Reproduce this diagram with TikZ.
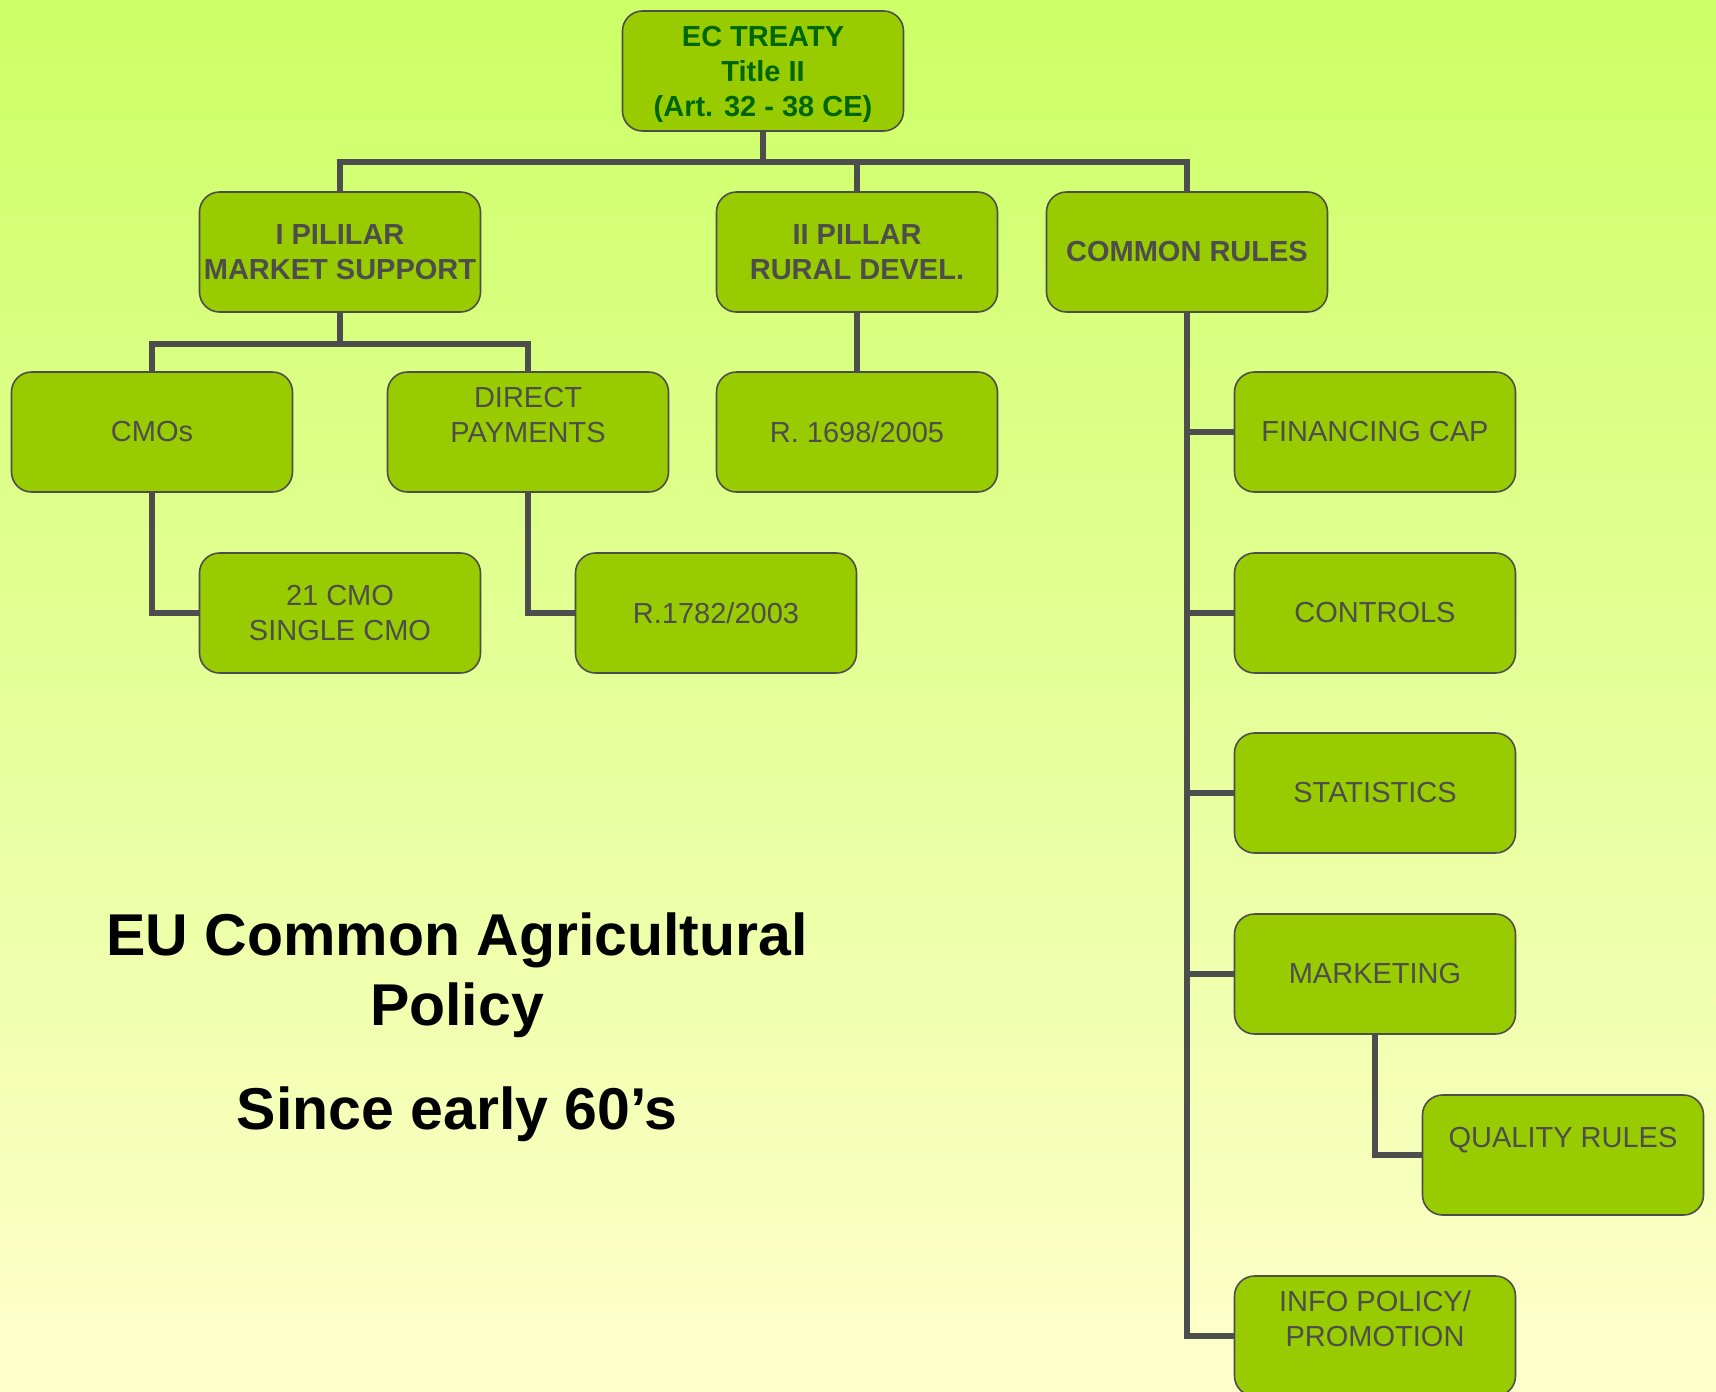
\documentclass[tikz,border=0pt]{standalone}
\usepackage{fontspec}
\setmainfont{Liberation Sans}
\definecolor{bgtop}{HTML}{CCFF66}
\definecolor{bgbot}{HTML}{FFFFCC}
\definecolor{boxfill}{HTML}{99CC00}
\definecolor{edge}{HTML}{4D4D4D}
\definecolor{treaty}{HTML}{006600}
\tikzset{
  box/.style={draw=edge, line width=1.6pt, fill=boxfill, rounded corners=20pt,
    minimum width=281pt, minimum height=120pt, inner sep=0pt, align=center,
    text=edge, font=\fontsize{29}{35}\selectfont},
  headbox/.style={box, font=\fontsize{29}{35}\selectfont\bfseries},
  link/.style={draw=edge, line width=5.5pt},
  bigtext/.style={align=center, font=\fontsize{59}{70}\selectfont\bfseries},
}

\begin{document}
\begin{tikzpicture}[x=1pt,y=-1pt]
			%%%%% START %%%%%
			\shade[top color=bgtop, bottom color=bgbot] (0,0) rectangle (1716,1392);
			\useasboundingbox (0,0) rectangle (1716,1392);
			\clip (0,0) rectangle (1716,1392);
			
			% treaty and pillars
			\node[headbox, text=treaty, text depth=0pt] (treaty) at (763,71) {EC TREATY\\Title II\\(Art. 32 - 38 CE)};
			\node[headbox] (pillarI) at (340,252) {I PILILAR\\MARKET SUPPORT};
			\node[headbox] (pillarII) at (857,252) {II PILLAR\\RURAL DEVEL.};
			\node[headbox] (rules) at (1187,252) {COMMON RULES};
			
			% first pillar
			\node[box] (cmos) at (152,432) {CMOs};
			\node[box] (direct) at (528,432) {DIRECT\\PAYMENTS\\\mbox{}};
			\node[box] (singlecmo) at (340,613) {21 CMO\\SINGLE CMO};
			\node[box] (reg1782) at (716,613) {R.1782/2003};
			
			% second pillar
			\node[box] (reg1698) at (857,432) {R. 1698/2005};
			
			% common rules
			\node[box] (financing) at (1375,432) {FINANCING CAP};
			\node[box] (controls) at (1375,613) {CONTROLS};
			\node[box] (statistics) at (1375,793) {STATISTICS};
			\node[box] (marketing) at (1375,974) {MARKETING};
			\node[box] (quality) at (1563,1155) {QUALITY RULES\\\mbox{}};
			\node[box] (info) at (1375,1336) {INFO POLICY/\\PROMOTION\\\mbox{}};
			
			% connectors
			\coordinate (busA) at (763,162);
			\coordinate (busB) at (340,344);
			\draw[link] (treaty.south) -- (busA);
			\draw[link] (pillarI.north) |- (busA) -| (rules.north);
			\draw[link] (pillarII.north) -- (pillarII.north |- busA);
			\draw[link] (pillarI.south) -- (busB);
			\draw[link] (cmos.north) |- (busB) -| (direct.north);
			\draw[link] (cmos.south) |- (singlecmo.west);
			\draw[link] (direct.south) |- (reg1782.west);
			\draw[link] (pillarII.south) -- (reg1698.north);
			\draw[link] (rules.south) |- (info.west);
			\foreach \n in {financing,controls,statistics,marketing}
				\draw[link] (\n.west) -- (\n.west -| rules.south);
			\draw[link] (marketing.south) |- (quality.west);
			
			% title
			\node[bigtext] (title) at (457,975) {EU Common Agricultural\\Policy};
			\node[bigtext] (since) at (457,1114) {Since early 60’s};
			%%%%% END %%%%%
\end{tikzpicture}
\end{document}
